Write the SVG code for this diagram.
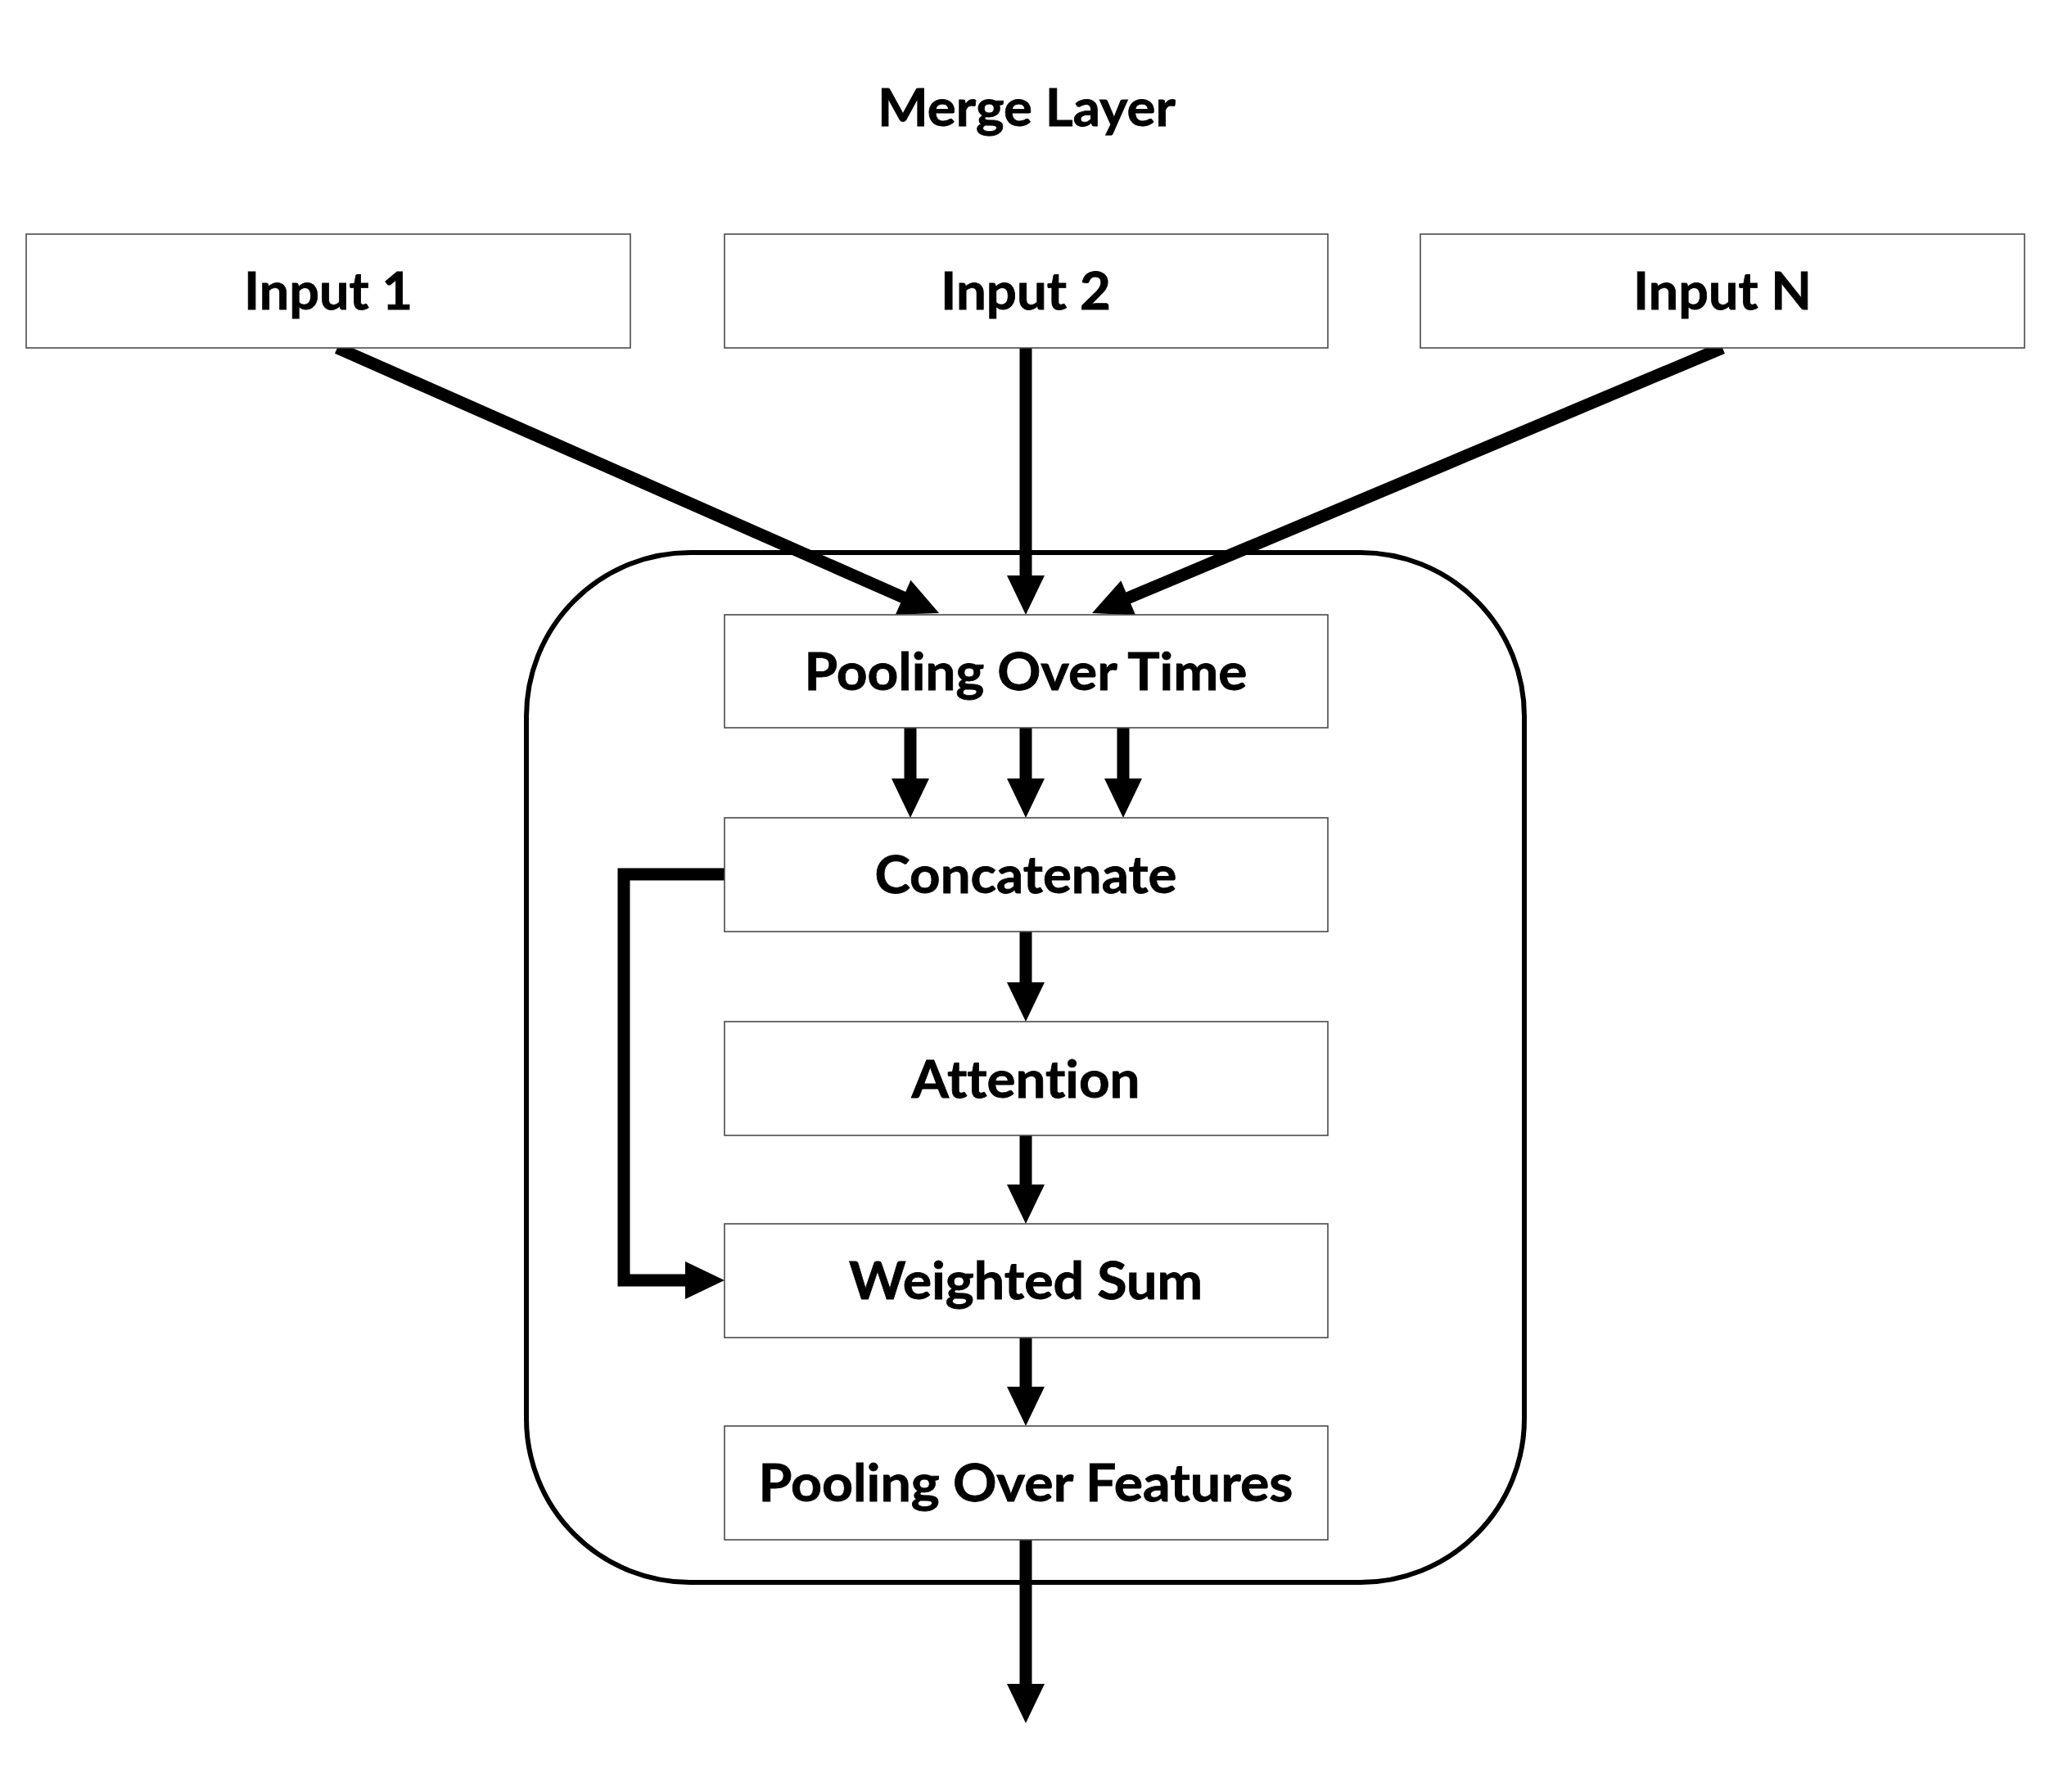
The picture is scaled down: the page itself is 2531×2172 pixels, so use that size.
<svg xmlns="http://www.w3.org/2000/svg" width="2531" height="2172" viewBox="0 0 2531 2172">
  <style>
    .box { fill: #ffffff; stroke: #4a4a4a; stroke-width: 1.6; }
    .label { font-family: Lato, "Open Sans", "Liberation Sans", sans-serif; font-weight: bold; font-size: 63px; fill: #000000; text-anchor: middle; font-variant-ligatures: none; font-feature-settings: "liga" 0, "clig" 0, "dlig" 0; stroke: #000000; stroke-width: 0.8; }
    .frame { fill: none; stroke: #000000; stroke-width: 6; }
    .conn { fill: none; stroke: #000000; stroke-width: 15; stroke-linecap: butt; stroke-linejoin: miter; marker-end: url(#head); }
  </style>
  <defs>
    <marker id="head" markerUnits="userSpaceOnUse" viewBox="0 -25 50 50" markerWidth="50" markerHeight="50" refX="2" refY="0" orient="auto" overflow="visible">
      <path d="M0,-23 L48,0 L0,23 Z" fill="#000000"/>
    </marker>
  </defs>
  <rect width="2531" height="2172" fill="#ffffff"/>

  <g id="title">
    <text class="label" x="1254" y="154" textLength="364" lengthAdjust="spacingAndGlyphs">Merge Layer</text>
  </g>

  <g id="merge-frame">
    <rect class="frame" x="643" y="675" width="1219" height="1258" rx="200" ry="200"/>
  </g>

  <g id="connectors">
    <line class="conn" x1="412" y1="425" x2="1105" y2="730.5"/>
    <line class="conn" x1="1253" y1="425" x2="1253" y2="705"/>
    <line class="conn" x1="2104" y1="425" x2="1376.4" y2="731.2"/>
    <line class="conn" x1="1112" y1="889" x2="1112" y2="953"/>
    <line class="conn" x1="1253" y1="889" x2="1253" y2="953"/>
    <line class="conn" x1="1372" y1="889" x2="1372" y2="953"/>
    <line class="conn" x1="1253" y1="1138" x2="1253" y2="1202"/>
    <line class="conn" x1="1253" y1="1387" x2="1253" y2="1449"/>
    <path class="conn" d="M885,1068 H762 V1564 H839"/>
    <line class="conn" x1="1253" y1="1634" x2="1253" y2="1696"/>
    <line class="conn" x1="1253" y1="1881" x2="1253" y2="2059"/>
  </g>

  <g id="input-1">
    <rect class="box" x="32" y="286" width="738" height="139"/>
    <text class="label" x="401" y="378" textLength="206" lengthAdjust="spacingAndGlyphs">Input 1</text>
  </g>
  <g id="input-2">
    <rect class="box" x="885" y="286" width="737" height="139"/>
    <text class="label" x="1253" y="378" textLength="208" lengthAdjust="spacingAndGlyphs">Input 2</text>
  </g>
  <g id="input-n">
    <rect class="box" x="1735" y="286" width="738" height="139"/>
    <text class="label" x="2104" y="378" textLength="218" lengthAdjust="spacingAndGlyphs">Input N</text>
  </g>
  <g id="pooling-over-time">
    <rect class="box" x="885" y="751" width="737" height="138"/>
    <text class="label" x="1253" y="843" textLength="541" lengthAdjust="spacingAndGlyphs">Pooling Over Time</text>
  </g>
  <g id="concatenate">
    <rect class="box" x="885" y="999" width="737" height="139"/>
    <text class="label" x="1253" y="1091" textLength="369" lengthAdjust="spacingAndGlyphs">Concatenate</text>
  </g>
  <g id="attention">
    <rect class="box" x="885" y="1248" width="737" height="139"/>
    <text class="label" x="1253" y="1341" textLength="279" lengthAdjust="spacingAndGlyphs">Attention</text>
  </g>
  <g id="weighted-sum">
    <rect class="box" x="885" y="1495" width="737" height="139"/>
    <text class="label" x="1253" y="1587" textLength="432" lengthAdjust="spacingAndGlyphs">Weighted Sum</text>
  </g>
  <g id="pooling-over-features">
    <rect class="box" x="885" y="1742" width="737" height="139"/>
    <text class="label" x="1253" y="1834" textLength="653" lengthAdjust="spacingAndGlyphs">Pooling Over Features</text>
  </g>
</svg>
